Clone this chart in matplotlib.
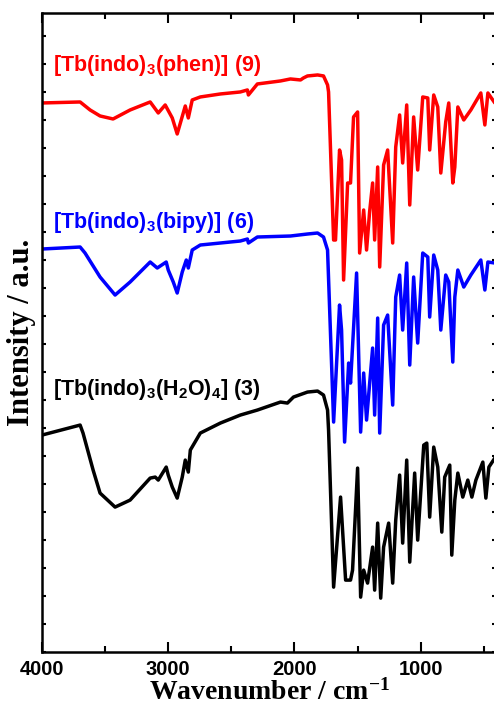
import numpy as np
import matplotlib
matplotlib.use("Agg")
import matplotlib.pyplot as plt
from matplotlib.ticker import MultipleLocator

# IR spectra, wavenumber (cm-1) and offset intensity (a.u.)
wn_phen = [4000, 3698, 3619, 3540, 3437, 3302, 3143, 3079, 3024, 2968,
           2929, 2865, 2841, 2810, 2746, 2587, 2429, 2373, 2365, 2294,
           2111, 2032, 1952, 1929, 1897, 1817, 1770, 1738, 1730, 1690,
           1675, 1643, 1627, 1611, 1579, 1556, 1532, 1500, 1484, 1452,
           1429, 1405, 1381, 1365, 1341, 1325, 1294, 1262, 1222, 1198,
           1167, 1143, 1111, 1087, 1056, 1024, 984, 944, 929, 897,
           865, 841, 802, 778, 746, 730, 706, 659, 603, 524,
           492, 468, 413, 400]
int_phen = [549, 550, 542, 536, 533, 542, 550, 539, 547, 534,
            518, 546, 534, 552, 555, 558, 560, 562, 557, 568,
            571, 573, 572, 574, 576, 577, 576, 567, 560, 412,
            412, 502, 492, 372, 469, 469, 535, 540, 399, 442,
            402, 440, 469, 412, 485, 385, 487, 502, 409, 505,
            537, 489, 547, 447, 535, 482, 555, 554, 502, 557,
            545, 479, 530, 549, 469, 485, 545, 532, 542, 559,
            527, 559, 549, 552]

wn_bipy = [4000, 3698, 3659, 3540, 3421, 3302, 3143, 3087, 3016, 3000,
           2960, 2929, 2889, 2857, 2841, 2810, 2746, 2429, 2373, 2365,
           2294, 2032, 1897, 1817, 1770, 1738, 1690, 1643, 1627, 1603,
           1571, 1556, 1508, 1476, 1452, 1429, 1381, 1365, 1341, 1325,
           1294, 1262, 1222, 1198, 1167, 1143, 1111, 1087, 1056, 1024,
           984, 944, 929, 897, 865, 841, 802, 778, 746, 730,
           706, 659, 603, 524, 492, 468, 413, 400]
int_bipy = [403, 405, 399, 375, 357, 370, 390, 384, 390, 382,
            370, 359, 380, 392, 384, 402, 407, 411, 413, 409,
            415, 416, 418, 419, 415, 402, 230, 347, 322, 210,
            289, 269, 379, 220, 279, 232, 304, 237, 334, 219,
            327, 337, 247, 355, 377, 322, 389, 287, 375, 309,
            399, 395, 335, 397, 382, 322, 377, 370, 290, 355,
            382, 365, 377, 392, 362, 390, 389, 390]

wn_h2o = [4000, 3698, 3675, 3595, 3540, 3421, 3302, 3143, 3103, 3079,
          3016, 3000, 2968, 2929, 2889, 2865, 2841, 2825, 2746, 2587,
          2429, 2294, 2111, 2056, 2008, 1897, 1817, 1770, 1738, 1730,
          1690, 1635, 1595, 1556, 1540, 1500, 1476, 1452, 1421, 1381,
          1365, 1341, 1317, 1294, 1254, 1222, 1198, 1167, 1143, 1111,
          1087, 1048, 1024, 976, 952, 929, 897, 865, 833, 810,
          770, 754, 730, 706, 667, 627, 595, 563, 508, 484,
          460, 413, 400]
int_h2o = [217, 227, 219, 182, 159, 145, 152, 174, 175, 172,
           185, 177, 165, 154, 175, 192, 180, 202, 219, 229,
           237, 242, 250, 249, 255, 260, 261, 257, 242, 222,
           65, 155, 72, 72, 82, 184, 55, 82, 69, 105,
           62, 129, 54, 105, 129, 69, 132, 177, 109, 192,
           90, 179, 112, 207, 209, 135, 205, 185, 120, 175,
           187, 97, 152, 179, 155, 172, 155, 172, 190, 154,
           185, 194, 197]

labels = ["[Tb(indo)$_3$(phen)] (9)",
          "[Tb(indo)$_3$(bipy)] (6)",
          "[Tb(indo)$_3$(H$_2$O)$_4$] (3)"]
colors = ["#ff0000", "#0000ff", "#000000"]
label_y = [581, 424, 257]

plt.rcParams['mathtext.default'] = 'regular'

fig = plt.figure(figsize=(4.94, 7.19), dpi=100)
ax = fig.add_axes([0.085, 0.093, 0.92, 0.889])

series = [(wn_phen, int_phen), (wn_bipy, int_bipy), (wn_h2o, int_h2o)]
for (x, y), c, lab, ly in zip(series, colors, labels, label_y):
    ax.plot(x, y, color=c, lw=2.5, solid_joinstyle='round')
    ax.text(3913, ly, lab, color=c, fontsize=15.5, fontweight='bold',
            family='Liberation Sans', va='baseline', ha='left')

ax.set_xlim(4000, 400)
ax.set_ylim(0, 639)
ax.xaxis.set_major_locator(MultipleLocator(1000))
ax.xaxis.set_minor_locator(MultipleLocator(500))
ax.yaxis.set_major_locator(MultipleLocator(56))
ax.yaxis.set_minor_locator(MultipleLocator(28))
ax.tick_params(which='both', direction='in', top=True, right=True,
               width=1.5, labelleft=False)
ax.tick_params(which='major', axis='x', length=7, pad=6)
ax.tick_params(which='minor', axis='x', length=4)
ax.tick_params(which='both', axis='y', length=3)
for lbl in ax.get_xticklabels():
    lbl.set_fontfamily('Liberation Sans')
    lbl.set_fontweight('bold')
    lbl.set_fontsize(14.5)
for s in ax.spines.values():
    s.set_linewidth(1.8)

ax.set_xlabel("Wavenumber / cm$^{-1}$", fontsize=20, fontweight='bold',
              family='Liberation Serif', labelpad=0)
ax.set_ylabel("Intensity / a.u.", fontsize=22, fontweight='bold',
              family='Liberation Serif', labelpad=4)

fig.savefig("out.png", dpi=100)
